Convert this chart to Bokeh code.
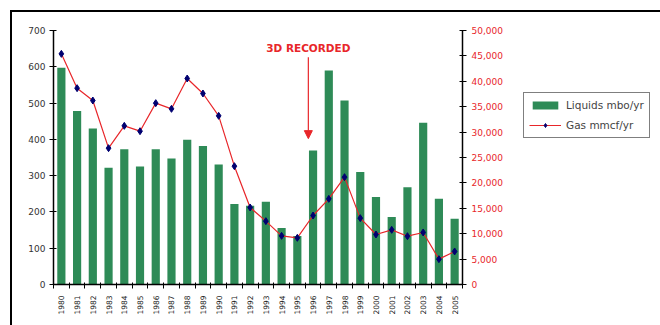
import math
from bokeh.plotting import figure
from bokeh.layouts import row
from bokeh.models import (Range1d, LinearAxis, FixedTicker, NumeralTickFormatter, Legend, LegendItem,
                          Label, Arrow, NormalHead, ColumnDataSource, InlineStyleSheet)
from bokeh.embed import file_html
from bokeh.resources import INLINE

years = list(range(1980, 2006))
year_labels = [str(y) for y in years]
liquids = [597, 478, 430, 322, 373, 325, 373, 347, 399, 382, 331, 222, 217, 228, 156, 134,
           369, 590, 507, 310, 241, 186, 268, 446, 236, 181]
gas = [45400, 38650, 36220, 26840, 31230, 30180, 35700, 34580, 40550, 37600, 33200, 23290,
       15160, 12470, 9580, 9190, 13580, 16860, 21130, 13060, 9840, 10760, 9510, 10240, 4990, 6500]
left_ticks = [0, 100, 200, 300, 400, 500, 600, 700]
right_ticks = [0, 5000, 10000, 15000, 20000, 25000, 30000, 35000, 40000, 45000, 50000]
series_names = ["Liquids mbo/yr", "Gas mmcf/yr"]
annotation_text = "3D RECORDED"
annotation_year = 1995.7

FONT = "DejaVu Sans"
GREEN = "#2e8b57"
RED = "#e8262a"
NAVY = "#000070"

src = ColumnDataSource(dict(x=years, liq=liquids, gas=gas))

W1 = 515
p1 = figure(width=W1, height=325, output_backend="svg", toolbar_location=None,
            x_range=Range1d(1979.5, 2005.5), y_range=Range1d(0, 700),
            min_border_left=53, min_border_right=W1 - 462, min_border_top=30, min_border_bottom=41)
p1.extra_y_ranges = {"gas": Range1d(0, 50000)}
p1.xgrid.visible = False
p1.ygrid.visible = False
p1.outline_line_color = None

p1.vbar(x="x", top="liq", width=0.52, source=src, fill_color=GREEN, line_color=None)
p1.line(x="x", y="gas", source=src, y_range_name="gas", line_color=RED, line_width=1.2)
p1.scatter(x="x", y="gas", source=src, y_range_name="gas", marker="diamond", size=7,
           fill_color=NAVY, line_color=NAVY)

# x axis
xa = p1.xaxis[0]
xa.ticker = FixedTicker(ticks=years, minor_ticks=[y - 0.5 for y in years] + [years[-1] + 0.5])
xa.major_label_overrides = {y: s for y, s in zip(years, year_labels)}
xa.major_label_orientation = math.pi / 2
xa.major_tick_in = 0
xa.major_tick_out = 0
xa.minor_tick_in = 2
xa.minor_tick_out = 4
xa.minor_tick_line_color = "black"
xa.axis_line_width = 1.5
xa.major_label_text_font = FONT
xa.major_label_text_font_size = "7.5px"
xa.major_label_text_color = "#222222"
xa.major_label_standoff = 7

# left axis
ya = p1.yaxis[0]
ya.ticker = FixedTicker(ticks=left_ticks)
ya.major_tick_in = 3
ya.major_tick_out = 4
ya.minor_tick_line_color = None
ya.axis_line_width = 1.5
ya.major_label_text_font = FONT
ya.major_label_text_font_size = "9px"
ya.major_label_text_color = "#333333"
ya.major_label_standoff = 4

# right axis
ra = LinearAxis(y_range_name="gas", ticker=FixedTicker(ticks=right_ticks),
                formatter=NumeralTickFormatter(format="0,0"))
ra.major_tick_in = 3
ra.major_tick_out = 4
ra.minor_tick_line_color = None
ra.axis_line_width = 1.5
ra.major_label_text_font = FONT
ra.major_label_text_font_size = "9px"
ra.major_label_text_color = RED
ra.major_label_standoff = 5
p1.add_layout(ra, "right")

# annotation
p1.add_layout(Label(x=annotation_year, y=651, text=annotation_text, text_align="center",
                    text_baseline="middle", text_color=RED, text_font=FONT,
                    text_font_size="10.5px", text_font_style="bold"))
p1.add_layout(Arrow(x_start=annotation_year, y_start=626, x_end=annotation_year, y_end=402,
                    line_color=RED, line_width=1.2,
                    end=NormalHead(size=8, fill_color=RED, line_color=RED)))

# legend panel (separate figure so the legend is not clipped by the chart frame);
# its proxy glyphs reuse the data but lie outside this panel's ranges
p2 = figure(width=660 - W1, height=325, output_backend="svg", toolbar_location=None,
            x_axis_type=None, y_axis_type=None, x_range=Range1d(0, 1), y_range=Range1d(0, 1),
            min_border=0)
p2.grid.visible = False
p2.outline_line_color = None
lb = p2.vbar(x="x", top="liq", width=0.5, source=src, fill_color=GREEN, line_color=None)
ll = p2.line(x="x", y="gas", source=src, line_color=RED, line_width=1.2)
lp = p2.scatter(x="x", y="gas", source=src, marker="diamond", size=7, fill_color=NAVY, line_color=NAVY)

legend = Legend(items=[LegendItem(label=series_names[0], renderers=[lb]),
                       LegendItem(label=series_names[1], renderers=[ll, lp])],
                location=(8, 146), glyph_width=32, glyph_height=10, label_height=14,
                spacing=6, padding=5, margin=0, label_standoff=5,
                label_text_font=FONT, label_text_font_size="10.5px",
                border_line_color="black", border_line_width=1.2)
p2.add_layout(legend, "center")

layout = row(p1, p2, spacing=0)
layout.stylesheets = [InlineStyleSheet(css="""
:host { position: relative; overflow: hidden; }
:host::after { content: ""; position: absolute; left: 10px; top: 10px; right: -30px; bottom: -30px;
  border: 2px solid black; pointer-events: none; z-index: 10; }
""")]

open("out.html", "w").write(file_html(layout, INLINE))
